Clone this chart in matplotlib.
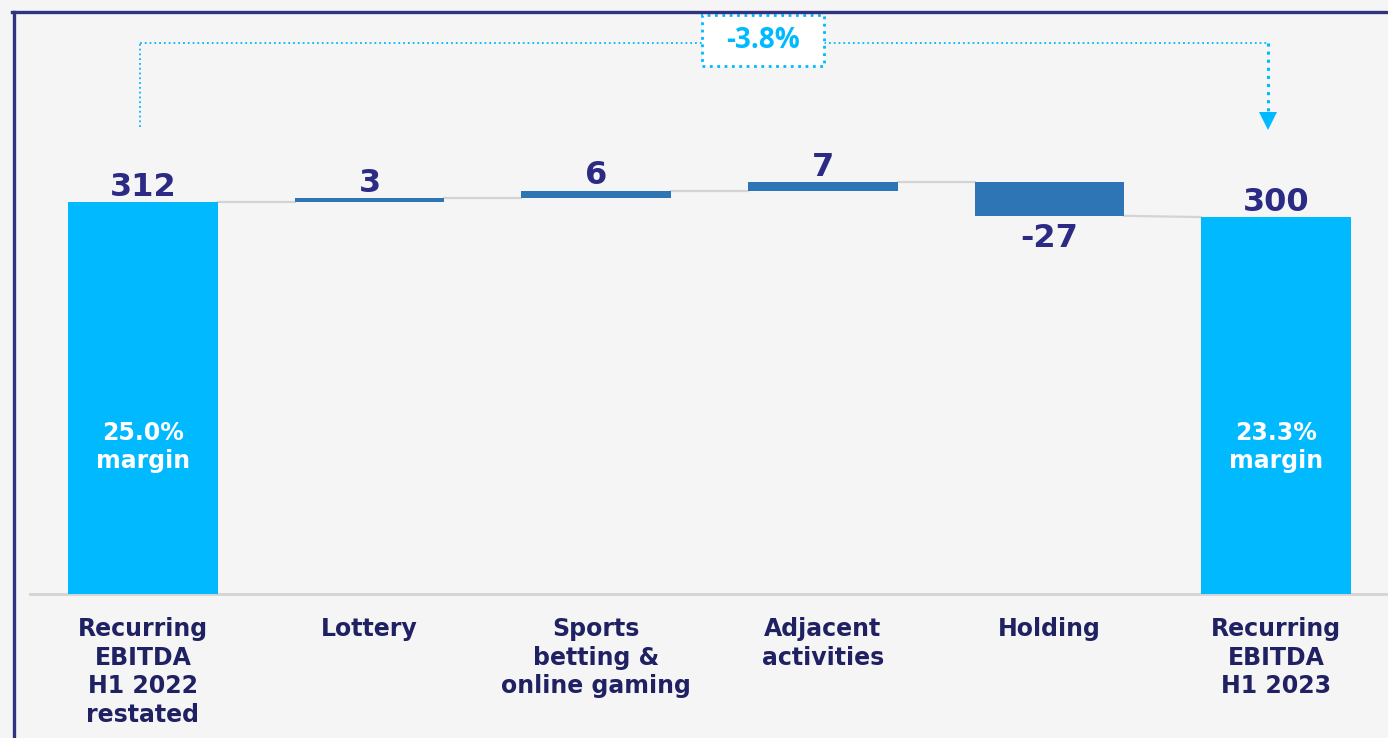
import numpy as np
import matplotlib.pyplot as plt
from matplotlib.lines import Line2D
from matplotlib.patches import FancyBboxPatch

# Data
categories = ['Recurring\nEBITDA\nH1 2022\nrestated', 'Lottery', 'Sports\nbetting &\nonline gaming',
              'Adjacent\nactivities', 'Holding', 'Recurring\nEBITDA\nH1 2023']
start_total = 312
deltas = [3, 6, 7, -27]
end_total = 300
margins = ['25.0%\nmargin', '23.3%\nmargin']
change_label = '-3.8%'

# Colours
bg = '#f5f5f5'
total_color = '#00b9ff'
delta_color = '#2e75b6'
navy = '#2b2b85'
label_navy = '#1f2162'
frame_color = '#30337f'

W, H = 1388, 738
fig = plt.figure(figsize=(W / 100, H / 100), dpi=100)
fig.patch.set_facecolor(bg)
ax = fig.add_axes([0, 0, 1, 1])
ax.set_facecolor(bg)
ax.axis('off')

# pixel -> data mapping
px_per_unit = 392 / 312
base_px = 594
x0_px, dx_px = 143, 226.6
ax.set_xlim(-x0_px / dx_px, (W - x0_px) / dx_px)
ax.set_ylim(-(H - base_px) / px_per_unit, base_px / px_per_unit)


def py(p):
    return (base_px - p) / px_per_unit


def px(p):
    return (p - x0_px) / dx_px


width = 0.66
x = np.arange(len(categories))

# cumulative levels
levels = [start_total]
for d in deltas:
    levels.append(levels[-1] + d)

# total bars
ax.bar(x[0], start_total, width=width, color=total_color, zorder=3)
ax.bar(x[-1], end_total, width=width, color=total_color, zorder=3)

# delta bars
for i, d in enumerate(deltas):
    bottom = levels[i] if d >= 0 else levels[i + 1]
    ax.bar(x[i + 1], abs(d), bottom=bottom, width=width, color=delta_color, zorder=3)

# connectors
for i in range(len(categories) - 1):
    y_to = levels[i] if i + 1 < len(categories) - 1 else end_total
    ax.plot([x[i] + width / 2, x[i + 1] - width / 2], [levels[i], y_to],
            color='#d4d4d4', lw=1.6, zorder=2)

# baseline
ax.plot([px(30), px(W)], [0, 0], color='#d4d4d4', lw=2, zorder=2)


# value labels
def value_label(xi, y, txt, above=True):
    if above:
        ax.annotate(txt, (xi, y), xytext=(0, 4.5), textcoords='offset points', ha='center',
                    va='baseline', fontsize=23, fontweight='bold', color=navy, zorder=5)
    else:
        ax.annotate(txt, (xi, y), xytext=(0, -5), textcoords='offset points', ha='center',
                    va='top', fontsize=23, fontweight='bold', color=navy, zorder=5)


value_label(x[0], start_total, str(start_total))
for i, d in enumerate(deltas):
    value_label(x[i + 1], levels[i + 1], str(d), above=d >= 0)
value_label(x[-1], end_total, str(end_total))

# margin text inside totals
margin_y = py(447)
ax.text(x[0], margin_y, margins[0], ha='center', va='center', color='white',
        fontsize=17, fontweight='bold', linespacing=1.25, zorder=5)
ax.text(x[-1], margin_y, margins[1], ha='center', va='center', color='white',
        fontsize=17, fontweight='bold', linespacing=1.25, zorder=5)

# category labels
for xi, lab in zip(x, categories):
    ax.text(xi, py(617), lab, ha='center', va='top', color=label_navy,
            fontsize=17, fontweight='bold', linespacing=1.24, zorder=5)

# bracket with change label
br_y = py(43)
ax.plot([px(140), px(140)], [py(127), br_y], color=total_color, lw=1.3, ls=':', zorder=4)
ax.plot([px(140), px(1268)], [br_y, br_y], color=total_color, lw=1.3, ls=':', zorder=4)
ax.plot([px(1268), px(1268)], [br_y, py(116)], color=total_color, lw=2.2, ls=':', zorder=4)
ax.plot([px(1268)], [py(121)], marker='v', markersize=13, color=total_color,
        markeredgewidth=0, zorder=4)

box = FancyBboxPatch((px(702), py(66)), px(824) - px(702), py(15) - py(66),
                     boxstyle='square,pad=0', facecolor='white', edgecolor=total_color,
                     lw=2, ls=':', zorder=5)
ax.add_patch(box)
ax.text(px(763), py(41), change_label, ha='center', va='center', color=total_color,
        fontsize=20, fontweight='bold', family='Open Sans', zorder=6)

# frame lines
fig.add_artist(Line2D([13.5 / W, 13.5 / W], [0, 1 - 11.5 / H], transform=fig.transFigure,
                      color=frame_color, lw=2.4))
fig.add_artist(Line2D([12.3 / W, 1], [1 - 11.5 / H, 1 - 11.5 / H], transform=fig.transFigure,
                      color=frame_color, lw=2.4))

fig.savefig('out.png', dpi=100, facecolor=bg)
